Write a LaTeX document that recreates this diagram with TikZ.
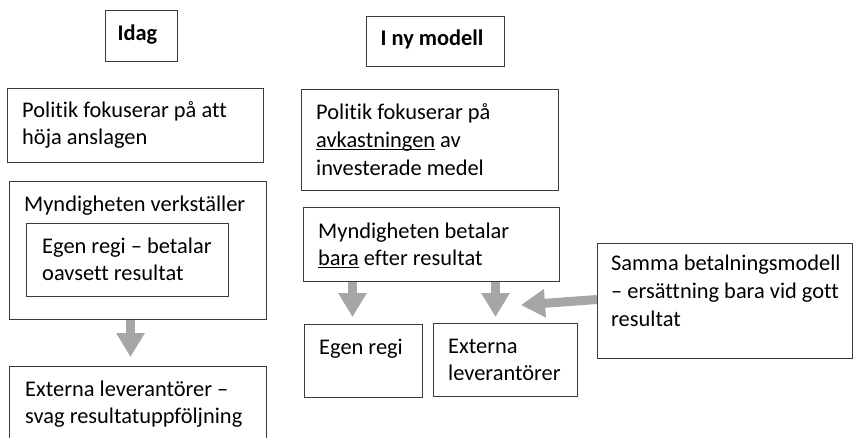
\documentclass[tikz,border=0pt]{standalone}
\usepackage{fontspec}
\setmainfont{Carlito}[Ligatures={NoCommon}]
\usetikzlibrary{arrows.meta}
\definecolor{boxline}{HTML}{3A3A3A}
\definecolor{arrowgray}{HTML}{A6A6A6}
\pgfdeclarelayer{bg}
\pgfsetlayers{bg,main}
\newsavebox\ulbox
\newcommand\myul[1]{\sbox\ulbox{#1}\rlap{\rule[-3pt]{\wd\ulbox}{1.2pt}}\usebox\ulbox}
\begin{document}
\begin{tikzpicture}[x=1pt,y=-1pt,
 box/.style={draw=boxline, line width=1pt, inner sep=0pt, anchor=north west, fill=white},
 txt/.style={anchor=base west, inner sep=0pt, align=left, font=\fontsize{22.4}{27}\selectfont},
 txtw/.style={txt, font=\fontsize{22.4}{28}\selectfont},
 ttl/.style={anchor=base, inner sep=0pt, font=\fontsize{22.4}{27}\selectfont\bfseries},
 garrow/.style={draw=arrowgray, line width=9pt, -{Triangle[width=27pt,length=24pt]}}]
\useasboundingbox (0,0) rectangle (853,437);
\clip (0,0) rectangle (853,437);
% boxes
\node[box, minimum width=72pt, minimum height=51pt] (idag) at (105,10) {};
\node[box, minimum width=138pt, minimum height=50pt] (ny) at (366,16) {};
\node[box, minimum width=256pt, minimum height=74pt] (p1) at (7,88) {};
\node[box, minimum width=257pt, minimum height=138pt] (mv) at (9,181) {};
\node[box, minimum width=202pt, minimum height=73pt] (eg1) at (26,223) {};
\node[box, minimum width=257pt, minimum height=84pt] (ex1) at (9,366) {};
\node[box, minimum width=257pt, minimum height=101pt] (p2) at (301,89) {};
\node[box, minimum width=256pt, minimum height=74pt] (mb) at (303,207) {};
\node[box, minimum width=118pt, minimum height=73pt] (eg2) at (304,324) {};
\node[box, minimum width=144pt, minimum height=73pt] (ex2) at (433,323) {};
\node[box, minimum width=255pt, minimum height=115pt] (sam) at (597,243) {};
\coordinate (dtip) at (521,305);
% arrows (behind boxes)
\begin{pgfonlayer}{bg}
\draw[garrow, shorten >=9pt] ([xshift=-7.5pt]mv.south) -- ([xshift=-7.5pt]ex1.north);
\draw[garrow, shorten >=7pt] ([xshift=-11pt]eg2.north |- mb.south) -- ([xshift=-11pt]eg2.north);
\draw[garrow, shorten >=6pt] ([xshift=-10pt]ex2.north |- mb.south) -- ([xshift=-10pt]ex2.north);
\draw[garrow] ([yshift=1.5pt]sam.west) -- (dtip);
\end{pgfonlayer}
% texts (anchor = baseline of the last line)
\node[ttl] (idagt) at (137.5,40) {Idag};
\node[ttl] (nyt) at (432,45) {I ny modell};
\node[txt] (p1t) at (22,144) {Politik fokuserar på att\\höja anslagen};
\node[txt] (mvt) at (24,211) {Myndigheten verkställer};
\node[txt] (eg1t) at (42,280) {Egen regi – betalar\\oavsett resultat};
\node[txt] (ex1t) at (25,423) {Externa leverantörer –\\svag resultatuppföljning};
\node[txtw] (p2t) at (316,175) {Politik fokuserar på\\\myul{avkastningen} av\\investerade medel};
\node[txt] (mbt) at (318,265) {Myndigheten betalar\\\myul{bara} efter resultat};
\node[txt] (eg2t) at (319,354) {Egen regi};
\node[txt] (ex2t) at (448,380) {Externa\\leverantörer};
\node[txtw] (samt) at (611,326) {Samma betalningsmodell\\– ersättning bara vid gott\\resultat};
\end{tikzpicture}
\end{document}
